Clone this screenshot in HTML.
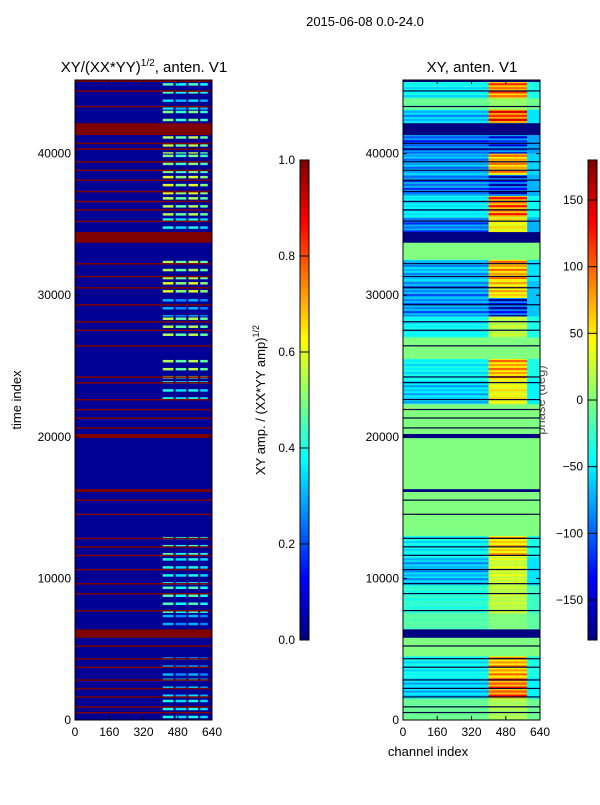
<!DOCTYPE html>
<html><head><meta charset="utf-8">
<style>
body{margin:0;background:#fff;width:600px;height:800px;overflow:hidden;font-family:"Liberation Sans",sans-serif;}
svg text{font-family:"Liberation Sans",sans-serif;}
</style></head>
<body>
<svg id="chart" width="600" height="800" xmlns="http://www.w3.org/2000/svg">
<rect width="600" height="800" fill="#fff"/>
<text x="365" y="26" font-size="13" text-anchor="middle">2015-06-08 0.0-24.0</text>
<text x="144" y="72" font-size="15" text-anchor="middle">XY/(XX*YY)<tspan font-size="10" dy="-6">1/2</tspan><tspan dy="6">, anten. V1</tspan></text>
<text x="472" y="72" font-size="15" text-anchor="middle">XY, anten. V1</text>
<text transform="translate(21,400) rotate(-90)" font-size="13" text-anchor="middle">time index</text>
<text x="428" y="756" font-size="13" text-anchor="middle">channel index</text>
<text transform="translate(265,400) rotate(-90)" font-size="13" text-anchor="middle">XY amp. / (XX*YY amp)<tspan font-size="9" dy="-6">1/2</tspan></text>
<text transform="translate(545,400) rotate(-90)" font-size="13" text-anchor="middle" fill="#555">phase (deg)</text>
<g id="lh"></g>
<g id="rh"></g>
<g id="axes"></g>
</svg>
<script>
// time segments: start, end, kind (0 normal, 1 flagged, 2 zero)
const segStart=[45050,43900,43100,42150,41300,40000,38500,37000,35500,34460,33700,32500,31000,29800,28500,27000,25500,24000,22300,20200,19900,16300,16100,13000,11500,9500,7500,6400,5800,4500,3000,1500,0];
const segEnd  =[45200,45050,43900,43100,42150,41300,40000,38500,37000,35500,34460,33700,32500,31000,29800,28500,27000,25500,24000,22300,20200,19900,16300,16100,13000,11500,9500,7500,6400,5800,4500,3000,1500];
const segKind =[1,0,0,0,1,0,0,0,0,0,1,2,0,0,0,0,2,0,0,2,1,2,1,2,0,0,0,0,1,2,0,0,0];
const segAmp  =[1,0.45,0.35,0.5,1,0.55,0.5,0.6,0.55,0.4,1,0,0.55,0.6,0.3,0.55,0,0.55,0.4,0,1,0,1,0,0.45,0.4,0.45,0.3,1,0,0.3,0.35,0.4];
const segPhLo =[0,-60,-10,-90,0,-130,-100,-120,-70,-120,0,0,-90,-110,-110,-60,0,-60,-80,0,0,0,0,0,-60,-90,-40,-20,0,0,-60,-80,-10];
const segPhHi =[0,120,10,150,0,-150,100,-170,130,60,0,0,100,80,-170,30,0,100,60,0,0,0,0,0,80,40,30,0,0,0,100,130,20];
const flagLines=[44400,43300,40700,40300,39400,38800,38100,37300,36600,36000,35200,32200,31300,30500,29300,28100,27500,26400,24200,23800,22600,21900,21300,20600,15500,14500,12800,12200,11600,10600,9600,8900,7700,5200,4300,3700,2800,2200,1600,900,500];
const patchCh0=[410,470,530,585];
const patchCh1=[460,520,575,620];
const chTicks=[0,160,320,480,640];
const tTicks=[0,10000,20000,30000,40000];
const ampTicks=[0.0,0.2,0.4,0.6,0.8,1.0];
const phTicks=[-150,-100,-50,0,50,100,150];

const NS="http://www.w3.org/2000/svg";
const T0=0,T1=45200,Y0=720,Y1=80;
const ty=t=>Y0-(t-T0)/(T1-T0)*(Y0-Y1);
const lx=c=>75+c/640*137, rx=c=>403+c/640*137;
function jet(v){v=Math.max(0,Math.min(1,v));
 const r=Math.max(0,Math.min(1,1.5-Math.abs(4*v-3))),g=Math.max(0,Math.min(1,1.5-Math.abs(4*v-2))),b=Math.max(0,Math.min(1,1.5-Math.abs(4*v-1)));
 return `rgb(${Math.round(r*255)},${Math.round(g*255)},${Math.round(b*255)})`;}
const ph=p=>jet((p+180)/360);
function rect(g,x,y,w,h,fill,name){const r=document.createElementNS(NS,'rect');
 r.setAttribute('x',x);r.setAttribute('y',y);r.setAttribute('width',Math.max(w,0.5));r.setAttribute('height',Math.max(h,0.5));r.setAttribute('fill',fill);
 
 
 g.appendChild(r);return r;}
function line(g,x1,y1,x2,y2,c,name){const l=document.createElementNS(NS,'line');
 l.setAttribute('x1',x1);l.setAttribute('y1',y1);l.setAttribute('x2',x2);l.setAttribute('y2',y2);l.setAttribute('stroke',c);
 
 
 g.appendChild(l);}
function text(g,x,y,s,anchor,name){const t=document.createElementNS(NS,'text');
 t.setAttribute('x',x);t.setAttribute('y',y);t.setAttribute('font-size','12');t.setAttribute('text-anchor',anchor);t.textContent=s;
 
 
 g.appendChild(t);}
const lh=document.getElementById('lh'),rh=document.getElementById('rh'),ax=document.getElementById('axes');
const navy=jet(0.02);
rect(lh,75,80,137,640,navy,'left-background');
rect(rh,403,80,137,640,ph(0),'right-background');
for(let i=0;i<segStart.length;i++){
 const y=ty(segEnd[i]),h=ty(segStart[i])-y,k=segKind[i];
 if(k===1){rect(lh,75,y,137,h,jet(1),'left-flag-band');rect(rh,403,y,137,h,ph(-180),'right-flag-band');}
 else if(k===2){rect(lh,75,y,137,h,navy,'left-zero-band');rect(rh,403,y,137,h,ph(0),'right-zero-band');}
 else{
  rect(lh,75,y,137,h,navy,'left-band');
  rect(rh,403,y,rx(400)-403,h,ph(segPhLo[i]*0.6),'right-band-low');
  rect(rh,rx(400),y,rx(580)-rx(400),h,ph(segPhHi[i]*0.5),'right-band-high');
  rect(rh,rx(580),y,540-rx(580),h,ph(segPhLo[i]*0.6),'right-band-edge');
  let n=0;
  for(let s=y+1;s<y+h-1;s+=4,n++){
   if(n%2===0){
    for(let j=0;j<patchCh0.length;j++){
     rect(lh,lx(patchCh0[j]),s,lx(patchCh1[j])-lx(patchCh0[j]),2.5,jet(segAmp[i]*(j%2?0.85:1)),'left-patch');
    }
   }
   rect(rh,403,s,rx(400)-403,2.2,ph(segPhLo[i]*(n%2?1:0.8)),'right-stripe-low');
   rect(rh,rx(400),s,rx(580)-rx(400),2.2,ph(segPhHi[i]*(n%2?0.8:1)),'right-stripe-high');
  }
 }
}
flagLines.forEach(t=>{rect(lh,75,ty(t)-1,137,1.5,jet(1),'left-flag-line');rect(rh,403,ty(t)-1,137,1.2,'#00003a','right-flag-line');});
// frames
[[75,'left'],[403,'right']].forEach(([x0,n])=>{
 const f=document.createElementNS(NS,'rect');f.setAttribute('x',x0);f.setAttribute('y',80);f.setAttribute('width',137);f.setAttribute('height',640);f.setAttribute('fill','none');f.setAttribute('stroke','#000');
 
 
 ax.appendChild(f);
 const sx=n==='left'?lx:rx;
 chTicks.forEach(c=>{line(ax,sx(c),720,sx(c),716,'#000','x-tick');line(ax,sx(c),80,sx(c),84,'#000','x-tick');text(ax,sx(c),736,String(c),'middle','x-tick-label');});
 tTicks.forEach(t=>{line(ax,x0,ty(t),x0+4,ty(t),'#000','y-tick');line(ax,x0+137,ty(t),x0+133,ty(t),'#000','y-tick');text(ax,x0-4,ty(t)+4,String(t),'end','y-tick-label');});
});
// colorbars
for(let k=0;k<120;k++){const v=k/119;const yy=640-(k+1)*4;
 rect(ax,300,yy,9,4.3,jet(v),'left-colorbar-cell');rect(ax,588,yy,9,4.3,jet(v),'right-colorbar-cell');}
[[300,'left'],[588,'right']].forEach(([x0,n])=>{const f=document.createElementNS(NS,'rect');f.setAttribute('x',x0);f.setAttribute('y',160);f.setAttribute('width',9);f.setAttribute('height',480);f.setAttribute('fill','none');f.setAttribute('stroke','#000');
 
 
 ax.appendChild(f);});
ampTicks.forEach(v=>{const y=640-v*480;line(ax,300,y,309,y,'#000','colorbar-tick');text(ax,295,y+4,v.toFixed(1),'end','colorbar-tick-label');});
phTicks.forEach(v=>{const y=400-v/180*240;line(ax,588,y,597,y,'#000','colorbar-tick');text(ax,583,y+4,v<0?'\u2212'+(-v):String(v),'end','colorbar-tick-label');});
</script>
</body></html>
